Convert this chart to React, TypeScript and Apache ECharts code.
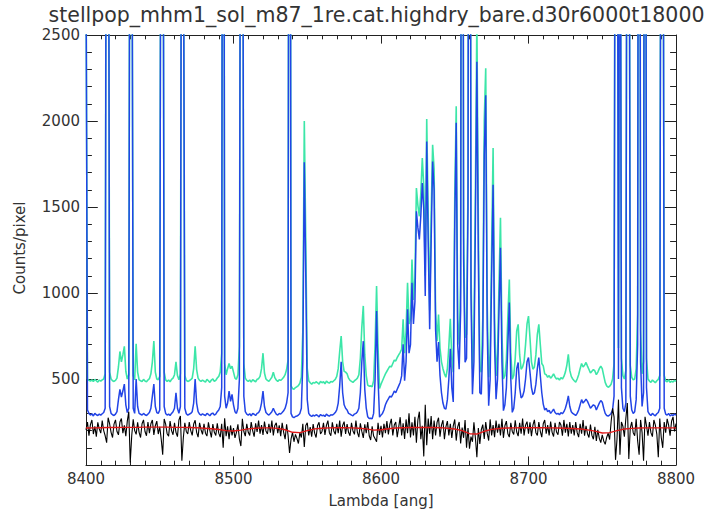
import { useEffect, useRef } from "react";
import * as echarts from "echarts";

const TITLE = "stellpop_mhm1_sol_m87_1re.cat.highdry_bare.d30r6000t18000";
const X_NAME = "Lambda [ang]";
const Y_NAME = "Counts/pixel";

// wavelength sampling of the spectra (Angstrom)
const LAMBDA_START = 8400;
const SPEC_STEP = 1;
const MODEL_STEP = 5;

// green: sky + object
const skyObject: number[] = [
  3000, 500, 492, 488, 495, 485, 498, 490, 482, 494,
  488, 495, 500, 530, 5000, 5000, 540, 500, 490, 486,
  492, 505, 570, 660, 600, 640, 690, 545, 500, 525,
  5000, 4000, 520, 495, 705, 540, 495, 490, 485, 498,
  488, 484, 494, 502, 530, 600, 720, 540, 500, 496,
  515, 5000, 5000, 540, 495, 486, 494, 484, 498, 505,
  525, 600, 520, 495, 530, 5000, 3500, 520, 492, 486,
  490, 496, 505, 560, 690, 555, 505, 492, 486, 494,
  488, 482, 498, 490, 480, 494, 500, 486, 492, 506,
  515, 540, 650, 8000, 590, 525, 560, 590, 560, 575,
  540, 505, 498, 525, 690, 5000, 5000, 590, 505, 492,
  486, 494, 482, 496, 490, 484, 498, 502, 515, 560,
  650, 535, 500, 492, 486, 498, 510, 540, 508, 494,
  486, 496, 492, 500, 510, 525, 555, 610, 8000, 460,
  445, 440, 450, 455, 462, 475, 510, 780, 2000, 1300,
  560, 490, 478, 470, 480, 476, 484, 478, 470, 486,
  478, 484, 472, 488, 480, 476, 486, 482, 490, 498,
  515, 560, 660, 750, 600, 545, 540, 530, 505, 492,
  486, 480, 490, 496, 505, 525, 620, 800, 925, 640,
  520, 465, 458, 460, 455, 490, 700, 1040, 680, 445,
  470, 490, 510, 530, 545, 560, 575, 570, 590, 610,
  605, 625, 640, 655, 673, 847, 650, 780, 1060, 820,
  850, 1195, 960, 1090, 1610, 1510, 1446, 1580, 1785, 1620,
  1100, 2011, 1450, 900, 1450, 1862, 1720, 900, 720, 875,
  680, 600, 560, 530, 510, 560, 690, 850, 620, 540,
  1550, 2085, 850, 700, 1050, 8000, 1350, 740, 760, 1650,
  8000, 1150, 560, 760, 1600, 2600, 1400, 560, 540, 850,
  2000, 2307, 950, 510, 650, 1250, 1843, 850, 518, 650,
  1050, 1437, 760, 500, 520, 610, 860, 1079, 650, 499,
  520, 620, 780, 818, 640, 557, 570, 600, 700, 820,
  866, 740, 600, 557, 570, 640, 760, 818, 700, 590,
  576, 530, 525, 510, 520, 505, 515, 530, 512, 500,
  505, 494, 508, 500, 515, 540, 580, 644, 550, 515,
  500, 490, 482, 500, 525, 560, 590, 570, 580, 596,
  575, 555, 535, 545, 555, 547, 525, 540, 560, 575,
  560, 520, 480, 460, 452, 458, 470, 500, 590, 5000,
  5000, 680, 5000, 620, 520, 500, 550, 5000, 5000, 580,
  510, 495, 500, 560, 880, 8000, 780, 530, 600, 8000,
  620, 500, 488, 480, 494, 486, 478, 490, 498, 520,
  5000, 5000, 520, 490, 484, 496, 480, 488, 482, 492,
  486,
];

// blue: object
const objectFlux: number[] = [
  3000, 320, 300, 290, 298, 285, 300, 292, 288, 296,
  290, 298, 305, 330, 5000, 5000, 340, 300, 292, 288,
  296, 310, 380, 440, 395, 430, 470, 350, 305, 330,
  5000, 4000, 330, 300, 500, 340, 300, 295, 290, 300,
  292, 288, 296, 305, 330, 400, 470, 340, 305, 300,
  320, 5000, 5000, 340, 300, 290, 296, 288, 300, 310,
  330, 420, 330, 300, 340, 5000, 3500, 330, 298, 290,
  295, 300, 310, 360, 500, 360, 310, 296, 290, 298,
  292, 288, 300, 294, 286, 298, 302, 290, 296, 310,
  320, 340, 450, 8000, 400, 330, 360, 430, 370, 410,
  350, 310, 300, 330, 500, 5000, 5000, 400, 310, 296,
  290, 298, 286, 300, 295, 288, 300, 305, 320, 360,
  430, 340, 305, 296, 290, 300, 310, 330, 310, 296,
  290, 300, 296, 305, 315, 330, 360, 420, 8000, 300,
  280, 276, 282, 285, 290, 300, 330, 600, 1760, 1100,
  380, 300, 288, 282, 290, 285, 292, 288, 280, 294,
  286, 290, 282, 296, 288, 284, 292, 290, 296, 305,
  320, 360, 460, 600, 420, 350, 330, 320, 300, 296,
  290, 286, 296, 300, 310, 330, 420, 600, 720, 440,
  330, 280, 270, 272, 268, 300, 500, 895, 500, 278,
  290, 300, 320, 350, 370, 385, 400, 395, 410, 430,
  420, 440, 460, 480, 518, 702, 490, 600, 905, 650,
  700, 1060, 820, 950, 1475, 1380, 1311, 1450, 1640, 1485,
  982, 1881, 1300, 789, 1300, 1765, 1600, 789, 600, 715,
  520, 420, 360, 330, 325, 380, 500, 675, 450, 366,
  1400, 1990, 700, 557, 900, 8000, 1200, 597, 620, 1500,
  8000, 1000, 412, 600, 1400, 2345, 1200, 420, 412, 700,
  1800, 2150, 800, 344, 500, 1100, 1630, 700, 383, 500,
  900, 1263, 600, 316, 350, 450, 700, 944, 500, 306,
  330, 420, 560, 596, 450, 390, 400, 430, 500, 600,
  625, 540, 450, 410, 420, 470, 560, 625, 520, 420,
  354, 320, 330, 310, 318, 300, 312, 325, 305, 296,
  300, 292, 305, 298, 310, 330, 360, 402, 340, 310,
  300, 294, 288, 300, 320, 350, 380, 360, 370, 383,
  370, 350, 330, 340, 350, 344, 320, 340, 360, 375,
  365, 330, 300, 288, 285, 290, 300, 320, 400, 5000,
  5000, 500, 5000, 450, 330, 310, 360, 5000, 5000, 400,
  320, 300, 310, 380, 700, 8000, 600, 340, 420, 8000,
  450, 310, 296, 288, 300, 292, 286, 298, 305, 330,
  5000, 5000, 330, 296, 290, 300, 285, 292, 288, 296,
  290,
];

// black: residual
const residual: number[] = [
  205, 250, 170, 235, 262, 180, 225, 165, 248, 210,
  185, 258, 200, 170, 130, 275, 240, 190, 160, 238,
  262, 195, 175, 250, 270, 185, 230, 168, 255, 310,
  15, 170, 265, 200, 178, 248, 190, 160, 240, 262,
  195, 170, 250, 185, 240, 262, 175, 228, 255, 180,
  222, 150, 60, 268, 238, 182, 168, 255, 200, 176,
  245, 190, 165, 262, 285, 25, 160, 245, 195, 180,
  250, 200, 172, 238, 260, 190, 162, 245, 205, 178,
  240, 185, 168, 248, 200, 160, 238, 190, 172, 242,
  185, 162, 240, 100, 272, 168, 225, 150, 230, 172,
  215, 158, 190, 236, 150, 110, 268, 195, 168, 240,
  190, 172, 250, 200, 165, 242, 192, 258, 182, 232,
  175, 252, 198, 180, 240, 188, 258, 172, 230, 245,
  185, 230, 168, 245, 190, 150, 236, 172, 70, 150,
  190, 135, 178, 155, 125, 188, 160, 240, 105, 230,
  245, 172, 220, 165, 238, 185, 160, 230, 248, 180,
  195, 245, 175, 230, 258, 188, 170, 248, 198, 178,
  240, 185, 258, 165, 230, 252, 180, 238, 190, 170,
  245, 198, 178, 258, 190, 162, 242, 195, 158, 236,
  185, 250, 170, 145, 225, 168, 152, 135, 245, 175,
  228, 160, 240, 185, 255, 178, 236, 268, 172, 232,
  250, 162, 220, 278, 172, 242, 152, 265, 185, 300,
  160, 248, 172, 280, 130, 262, 310, 150, 228, 50,
  350, 115, 270, 182, 285, 150, 258, 172, 248, 275,
  165, 232, 260, 150, 222, 255, 172, 240, 158, 228,
  265, 142, 222, 250, 125, 218, 158, 262, 100, 215,
  95, 165, 135, 248, 158, 45, 215, 122, 205, 235,
  152, 250, 185, 142, 265, 172, 232, 162, 258, 188,
  240, 172, 268, 158, 228, 255, 182, 162, 245, 195,
  178, 260, 192, 168, 245, 182, 270, 172, 232, 252,
  182, 248, 168, 232, 262, 188, 172, 250, 196, 162,
  240, 262, 182, 232, 172, 252, 190, 166, 245, 192,
  176, 250, 232, 170, 262, 188, 240, 166, 250, 182,
  232, 172, 250, 188, 162, 240, 182, 262, 170, 228,
  182, 160, 235, 172, 150, 222, 140, 205, 155, 130,
  175, 140, 120, 160, 185, 148, 250, 330, 280, 30,
  150, 380, 60, 250, 225, 165, 270, 360, 35, 215,
  250, 188, 170, 268, 140, 60, 262, 190, 25, 280,
  228, 170, 250, 188, 165, 262, 232, 180, 45, 270,
  160, 100, 250, 188, 268, 232, 170, 255, 280, 195,
  240,
];

// red: model continuum (5 A steps)
const model: number[] = [
  215, 216, 217, 218, 218, 219, 219, 219, 220, 220,
  220, 220, 219, 219, 218, 217, 214, 211, 206, 200,
  198, 203, 210, 214, 216, 216, 213, 205, 190, 188,
  200, 210, 214, 216, 217, 217, 216, 214, 210, 203,
  205, 211, 215, 217, 218, 218, 218, 218, 217, 214,
  209, 200, 182, 180, 196, 207, 212, 215, 216, 217,
  217, 217, 217, 216, 215, 214, 212, 209, 204, 197,
  186, 188, 200, 209, 213, 215, 216, 216, 216, 216,
  216,
];

const X_MIN = 8400;
const X_MAX = 8800;
const X_INTERVAL = 100;
const Y_MIN = 0;
const Y_MAX = 2500;
const Y_INTERVAL = 500;

const FONT = "DejaVu Sans";
const TEXT_COLOR = "#333";
const FRAME_COLOR = "#222";

function toPairs(values: number[], step: number): number[][] {
  return values.map((v, i) => [LAMBDA_START + i * step, v]);
}

export default function App() {
  const ref = useRef<HTMLDivElement>(null);

  useEffect(() => {
    if (!ref.current) return;
    const chart = echarts.init(ref.current, null, { renderer: "svg" });

    const axisLine = { show: true, onZero: false, lineStyle: { color: FRAME_COLOR, width: 1 } };
    const xCommon = {
      type: "value" as const,
      min: X_MIN,
      max: X_MAX,
      interval: X_INTERVAL,
      axisLine,
      axisTick: { show: true, inside: true, length: 8.6, lineStyle: { color: FRAME_COLOR, width: 1 } },
      minorTick: { show: true, splitNumber: 10, length: 4.3, lineStyle: { color: FRAME_COLOR, width: 1 } },
      splitLine: { show: false },
      minorSplitLine: { show: false },
    };
    const yCommon = {
      type: "value" as const,
      min: Y_MIN,
      max: Y_MAX,
      interval: Y_INTERVAL,
      axisLine,
      axisTick: { show: true, inside: true, length: 11.8, lineStyle: { color: FRAME_COLOR, width: 1 } },
      minorTick: { show: true, splitNumber: 5, length: 5.9, lineStyle: { color: FRAME_COLOR, width: 1 } },
      splitLine: { show: false },
      minorSplitLine: { show: false },
    };

    const lineSeries = (name: string, data: number[][], color: string, width: number) => ({
      name,
      type: "line" as const,
      data,
      xAxisIndex: 0,
      yAxisIndex: 0,
      showSymbol: false,
      symbol: "none",
      silent: true,
      clip: true,
      lineStyle: { color, width },
      emphasis: { disabled: true },
    });

    chart.setOption({
      animation: false,
      grid: { left: 86, right: 36, top: 35, bottom: 50 },
      xAxis: [
        {
          ...xCommon,
          position: "bottom",
          axisLabel: {
            show: true,
            margin: 6,
            fontSize: 15,
            color: TEXT_COLOR,
            fontFamily: FONT,
            formatter: (v: number) => String(v),
          },
        },
        { ...xCommon, position: "top", axisLabel: { show: false } },
      ],
      yAxis: [
        {
          ...yCommon,
          position: "left",
          axisLabel: {
            show: true,
            margin: 6,
            fontSize: 15,
            color: TEXT_COLOR,
            fontFamily: FONT,
            formatter: (v: number) => (v === 0 ? "" : String(v)),
          },
        },
        { ...yCommon, position: "right", axisLabel: { show: false } },
      ],
      series: [
        lineSeries("sky+object", toPairs(skyObject, SPEC_STEP), "#3ce6a8", 1.6),
        lineSeries("object", toPairs(objectFlux, SPEC_STEP), "#2244e6", 1.5),
        lineSeries("residual", toPairs(residual, SPEC_STEP), "#000000", 1.1),
        lineSeries("model", toPairs(model, MODEL_STEP), "#e01818", 1.4),
      ],
      graphic: [
        {
          type: "text",
          x: 376.5,
          y: 15,
          style: { text: TITLE, fontSize: 20.5, fontFamily: FONT, fill: TEXT_COLOR, align: "center", verticalAlign: "middle" },
        },
        {
          type: "text",
          x: 381,
          y: 501,
          style: { text: X_NAME, fontSize: 15, fontFamily: FONT, fill: TEXT_COLOR, align: "center", verticalAlign: "middle" },
        },
        {
          type: "text",
          x: 20,
          y: 248,
          rotation: Math.PI / 2,
          style: { text: Y_NAME, fontSize: 15, fontFamily: FONT, fill: TEXT_COLOR, align: "center", verticalAlign: "middle" },
        },
      ],
    });

    return () => chart.dispose();
  }, []);

  return (
    <div
      ref={ref}
      style={{ position: "fixed", left: 0, top: 0, width: 712, height: 515, background: "#fff" }}
    />
  );
}
